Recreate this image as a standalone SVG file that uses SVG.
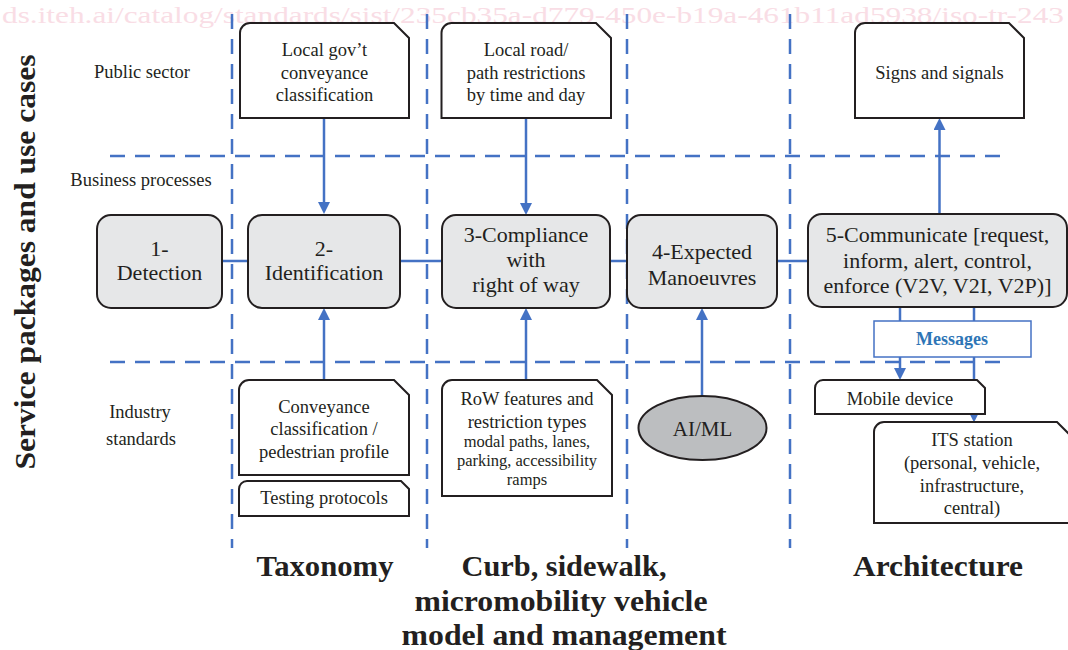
<svg xmlns="http://www.w3.org/2000/svg" width="1068" height="650" viewBox="0 0 1068 650">
<style>
.grid{stroke:#4472c4;stroke-width:2.5;stroke-dasharray:15 10;fill:none}
.conn{stroke:#4472c4;stroke-width:2.5;fill:none}
.node{fill:#e6e7e8;stroke:#231f20;stroke-width:2}
.box{fill:#ffffff;stroke:#231f20;stroke-width:2}
.t{font-family:"Liberation Serif","Times New Roman",serif;fill:#231f20;text-anchor:middle}
.n{font-size:22px}
.s{font-size:18.5px}
.xs{font-size:16.5px}
.b{font-weight:bold;font-size:29px}
.wm{font-family:"Liberation Serif",serif;font-size:23px;fill:#f9dde5}
</style>
<defs>
<marker id="ah" viewBox="0 0 10 10" refX="5" refY="5" markerWidth="12" markerHeight="12" markerUnits="userSpaceOnUse" orient="auto">
<path d="M0,0 L10,5 L0,10 Z" fill="#4472c4"/>
</marker>
<marker id="ahs" viewBox="0 0 10 10" refX="5" refY="5" markerWidth="9" markerHeight="9" markerUnits="userSpaceOnUse" orient="auto">
<path d="M0,0 L10,5 L0,10 Z" fill="#4472c4"/>
</marker>
</defs>
<rect width="1068" height="650" fill="#ffffff"/>
<text class="wm" x="2" y="23" textLength="1062" lengthAdjust="spacingAndGlyphs">ds.iteh.ai/catalog/standards/sist/235cb35a-d779-450e-b19a-461b11ad5938/iso-tr-243</text>

<g id="grid">
<line class="grid" x1="110" y1="156" x2="1000" y2="156"/>
<line class="grid" x1="110" y1="362" x2="1000" y2="362"/>
<line class="grid" x1="232" y1="14" x2="232" y2="548"/>
<line class="grid" x1="427" y1="14" x2="427" y2="548"/>
<line class="grid" x1="627" y1="14" x2="627" y2="548"/>
<line class="grid" x1="790" y1="14" x2="790" y2="548"/>
</g>

<g id="labels">
<text class="t" font-weight="bold" font-size="29" transform="translate(35,262) rotate(-90)" textLength="415" lengthAdjust="spacingAndGlyphs">Service packages and use cases</text>
<text class="t s" x="142" y="78">Public sector</text>
<text class="t s" x="141" y="186">Business processes</text>
<text class="t s" x="140" y="418">Industry</text>
<text class="t s" x="141" y="445">standards</text>
<text class="t b" x="325" y="576" textLength="137" lengthAdjust="spacingAndGlyphs">Taxonomy</text>
<text class="t b" x="564" y="576" textLength="205" lengthAdjust="spacingAndGlyphs">Curb, sidewalk,</text>
<text class="t b" x="561" y="611" textLength="293" lengthAdjust="spacingAndGlyphs">micromobility vehicle</text>
<text class="t b" x="564" y="645" textLength="325" lengthAdjust="spacingAndGlyphs">model and management</text>
<text class="t b" x="938" y="576" textLength="170" lengthAdjust="spacingAndGlyphs">Architecture</text>
</g>

<g id="connectors">
<line class="conn" x1="160" y1="261" x2="940" y2="261"/>
<line class="conn" x1="324" y1="118" x2="324" y2="208" marker-end="url(#ah)"/>
<line class="conn" x1="526" y1="118" x2="526" y2="209" marker-end="url(#ah)"/>
<line class="conn" x1="939.5" y1="214" x2="939.5" y2="124" marker-end="url(#ah)"/>
<line class="conn" x1="324" y1="380" x2="324" y2="314" marker-end="url(#ah)"/>
<line class="conn" x1="526" y1="380" x2="526" y2="314" marker-end="url(#ah)"/>
<line class="conn" x1="702" y1="396" x2="702" y2="314" marker-end="url(#ah)"/>
<line class="conn" x1="900" y1="307" x2="900" y2="374" marker-end="url(#ah)"/>
<line class="conn" x1="974" y1="307" x2="974" y2="418" marker-end="url(#ahs)"/>
</g>

<g id="n1">
<rect class="node" x="97" y="215" width="125" height="93" rx="14"/>
<text class="t n" x="159.5" y="256">1-</text>
<text class="t n" x="159.5" y="280">Detection</text>
</g>
<g id="n2">
<rect class="node" x="248" y="215" width="152" height="93" rx="14"/>
<text class="t n" x="324" y="256">2-</text>
<text class="t n" x="324" y="280">Identification</text>
</g>
<g id="n3">
<rect class="node" x="442" y="215" width="168" height="93" rx="14"/>
<text class="t n" x="526" y="242">3-Compliance</text>
<text class="t n" x="526" y="267">with</text>
<text class="t n" x="526" y="292">right of way</text>
</g>
<g id="n4">
<rect class="node" x="627" y="215" width="150" height="93" rx="14"/>
<text class="t n" x="702" y="259">4-Expected</text>
<text class="t n" x="702" y="285">Manoeuvres</text>
</g>
<g id="n5">
<rect class="node" x="808" y="214" width="259" height="93" rx="14"/>
<text class="t n" x="937.5" y="242">5-Communicate [request,</text>
<text class="t n" x="937.5" y="268">inform, alert, control,</text>
<text class="t n" x="937.5" y="293">enforce (V2V, V2I, V2P)]</text>
</g>

<g id="gov">
<path class="box" d="M240,118 V33 A10,10 0 0 1 250,23 H394 L409,38 V118 Z"/>
<text class="t s" x="324.5" y="56">Local gov’t</text>
<text class="t s" x="324.5" y="79">conveyance</text>
<text class="t s" x="324.5" y="101">classification</text>
</g>
<g id="road">
<path class="box" d="M441.5,118 V33 A10,10 0 0 1 451.5,23 H596 L611,38 V118 Z"/>
<text class="t s" x="526" y="56">Local road/</text>
<text class="t s" x="526" y="79">path restrictions</text>
<text class="t s" x="526" y="101">by time and day</text>
</g>
<g id="signs">
<path class="box" d="M855,118 V33 A10,10 0 0 1 865,23 H1009 L1024,38 V118 Z"/>
<text class="t s" x="939.5" y="79">Signs and signals</text>
</g>
<g id="conv">
<path class="box" d="M239,475 V390 A10,10 0 0 1 249,380 H394 L409,395 V475 Z"/>
<text class="t s" x="324" y="413">Conveyance</text>
<text class="t s" x="324" y="435">classification /</text>
<text class="t s" x="324" y="458">pedestrian profile</text>
</g>
<g id="testing">
<path class="box" d="M239,516 V489 A8,8 0 0 1 247,481 H401 L409,489 V516 Z"/>
<text class="t s" x="324" y="504">Testing protocols</text>
</g>
<g id="row">
<path class="box" d="M442,496 V390 A10,10 0 0 1 452,380 H597 L612,395 V496 Z"/>
<text class="t s" x="527" y="405">RoW features and</text>
<text class="t s" x="527" y="428">restriction types</text>
<text class="t xs" x="527" y="447">modal paths, lanes,</text>
<text class="t xs" x="527" y="466">parking, accessibility</text>
<text class="t xs" x="527" y="485">ramps</text>
</g>
<g id="aiml">
<ellipse cx="702.5" cy="428" rx="64" ry="32" fill="#bcbec0" stroke="#231f20" stroke-width="2"/>
<text class="t" font-size="21" x="702.5" y="436">AI/ML</text>
</g>
<g id="messages">
<rect x="874" y="321" width="157" height="36" fill="#ffffff" stroke="#4472c4" stroke-width="1.5"/>
<text class="t" font-weight="bold" font-size="18" style="fill:#2e75b6" x="952" y="345">Messages</text>
</g>
<g id="mobile">
<path class="box" d="M815,414 V388 A8,8 0 0 1 823,380 H977 L985,388 V414 Z"/>
<text class="t s" x="900" y="405">Mobile device</text>
</g>
<g id="its">
<path class="box" d="M874,523 V432 A10,10 0 0 1 884,422 H1057 L1072,437 V523 Z"/>
<text class="t s" x="972" y="446">ITS station</text>
<text class="t s" x="972" y="469">(personal, vehicle,</text>
<text class="t s" x="972" y="492">infrastructure,</text>
<text class="t s" x="972" y="514">central)</text>
</g>
</svg>
